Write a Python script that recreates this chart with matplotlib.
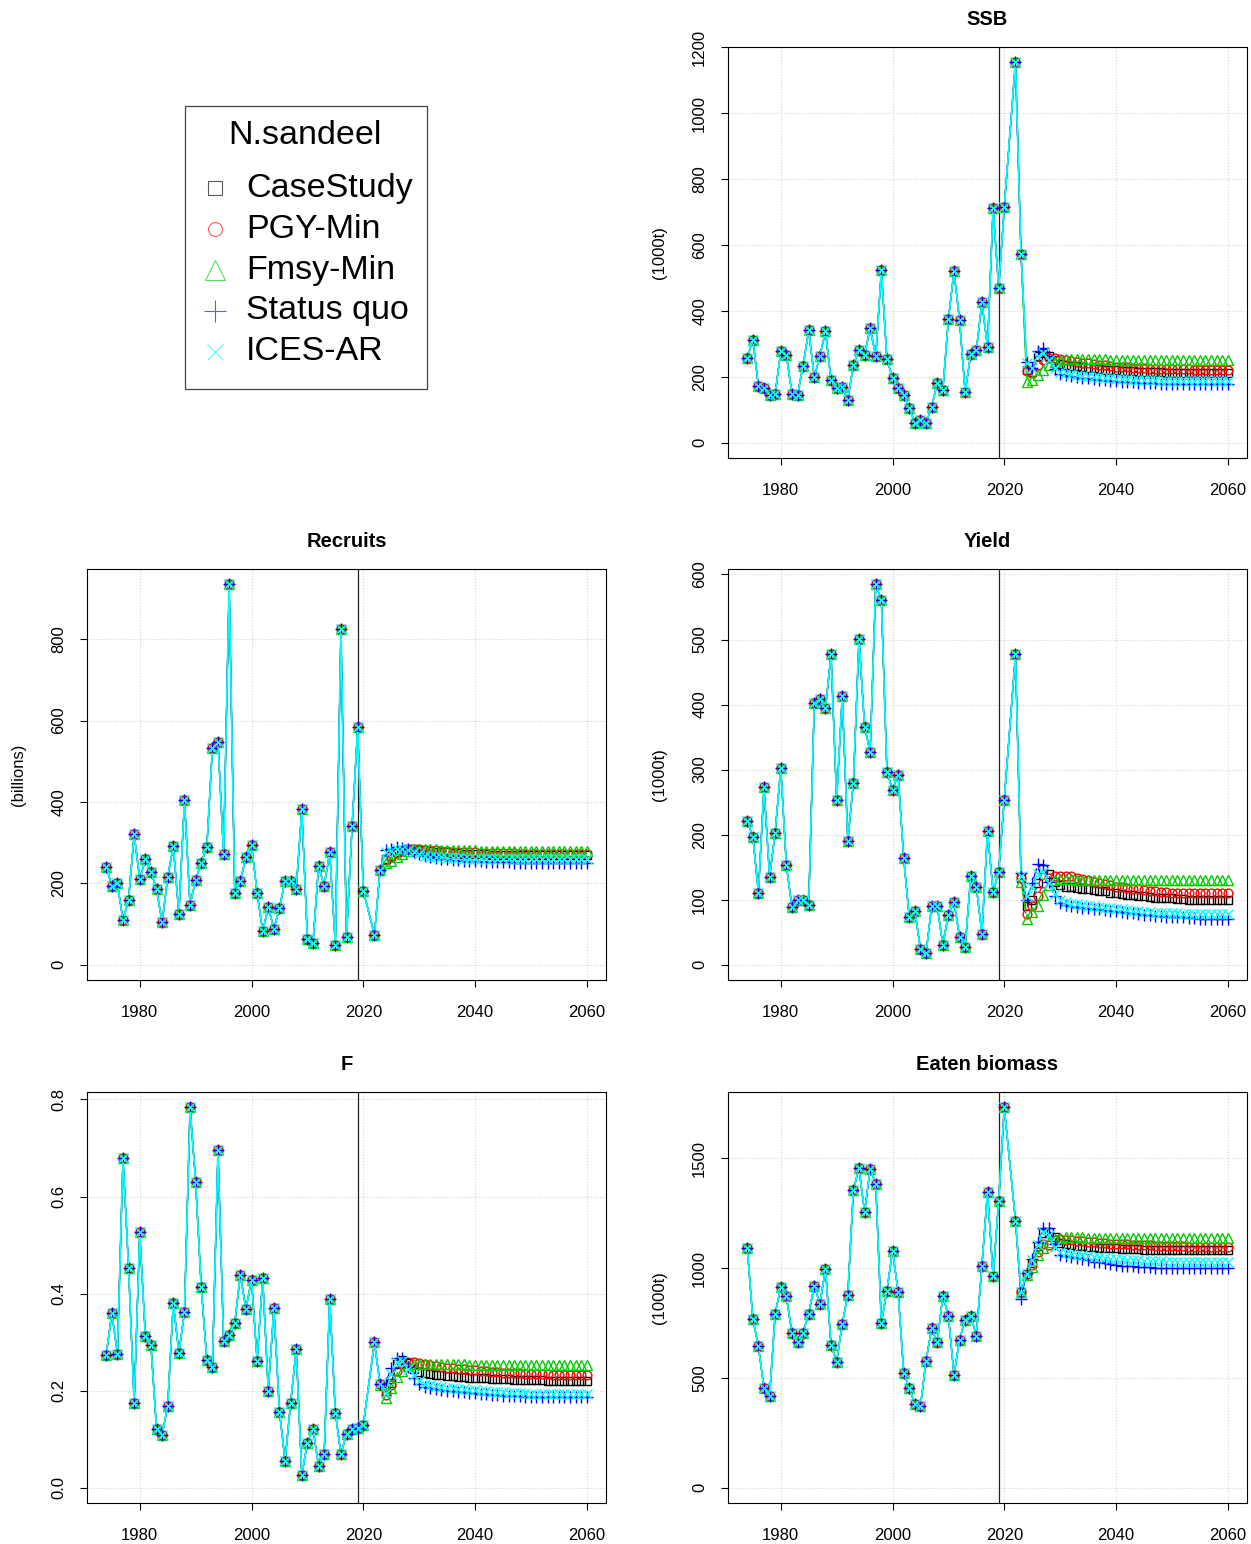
import numpy as np
import matplotlib
matplotlib.use('Agg')
import matplotlib.pyplot as plt
from matplotlib.lines import Line2D
from matplotlib.patches import Rectangle
from matplotlib.collections import LineCollection

plt.rcParams['font.family'] = ['Liberation Sans', 'DejaVu Sans']

# assessment years (2021 is not in the output) and projection years
hist_years = list(range(1974, 2021)) + [2022]
proj_years = list(range(2023, 2061))

scenarios = ['CaseStudy', 'PGY-Min', 'Fmsy-Min', 'Status quo', 'ICES-AR']
x_ticks = [1980, 2000, 2020, 2040, 2060]
last_assess_year = 2019

# ---- SSB (1000t)
ssb_hist = [257, 313, 173, 166, 146, 149, 277, 267, 149, 146,
            234, 341, 199, 262, 338, 189, 166, 169, 130, 237,
            280, 267, 348, 262, 523, 254, 196, 166, 146, 105,
            60, 70, 60, 108, 181, 159, 375, 520, 371, 153,
            270, 280, 426, 290, 712, 469, 715, 1154]
ssb_case = [571, 221, 215, 262, 272, 264, 250, 240, 236, 234,
            232, 230, 228, 226, 224, 222, 221, 220, 219, 218,
            217, 216, 215, 215, 214, 214, 213, 213, 213, 212,
            212, 212, 212, 212, 212, 212, 212, 212]
ssb_pgy = [571, 218, 212, 235, 252, 258, 257, 255, 252, 249,
           246, 243, 241, 239, 237, 235, 233, 231, 230, 229,
           228, 227, 226, 225, 225, 224, 224, 223, 223, 223,
           223, 222, 222, 222, 222, 222, 222, 222]
ssb_fmsy = [571, 183, 190, 205, 222, 236, 246, 251, 253, 254,
            254, 254, 253, 253, 253, 253, 252, 252, 252, 252,
            252, 252, 252, 252, 252, 252, 252, 252, 252, 252,
            252, 252, 252, 252, 252, 252, 252, 252]
ssb_sq = [571, 246, 228, 277, 287, 262, 225, 210, 206, 203,
          200, 197, 195, 193, 191, 189, 187, 186, 185, 184,
          183, 182, 181, 180, 180, 179, 179, 178, 178, 178,
          177, 177, 177, 177, 177, 177, 177, 177]
ssb_ices = [571, 241, 226, 262, 272, 250, 226, 214, 211, 208,
            206, 204, 202, 200, 198, 196, 195, 194, 193, 192,
            191, 190, 190, 189, 189, 188, 188, 188, 187, 187,
            187, 187, 187, 187, 187, 187, 187, 187]

# ---- Recruits (billions)
rec_hist = [241, 194, 200, 109, 160, 321, 210, 259, 229, 186,
            104, 215, 292, 125, 405, 147, 209, 250, 289, 532,
            548, 272, 935, 176, 207, 264, 294, 177, 82, 142,
            88, 139, 207, 207, 186, 382, 63, 53, 243, 194,
            276, 49, 825, 68, 341, 583, 182, 74]
rec_case = [233, 260, 268, 276, 282, 285, 284, 283, 281, 279,
            278, 277, 276, 275, 274, 273, 272, 272, 271, 271,
            270, 270, 270, 269, 269, 269, 269, 269, 269, 269,
            269, 269, 269, 269, 269, 269, 269, 269]
rec_pgy = [233, 258, 266, 274, 280, 284, 285, 284, 283, 282,
           281, 280, 279, 278, 277, 277, 276, 276, 275, 275,
           275, 274, 274, 274, 274, 273, 273, 273, 273, 273,
           273, 273, 273, 273, 273, 273, 273, 273]
rec_fmsy = [233, 250, 256, 264, 272, 280, 284, 285, 285, 284,
            284, 283, 283, 282, 282, 281, 281, 281, 280, 280,
            280, 280, 280, 279, 279, 279, 279, 279, 279, 279,
            279, 279, 279, 279, 279, 279, 279, 279]
rec_sq = [233, 281, 284, 289, 288, 284, 278, 272, 268, 265,
          263, 261, 259, 258, 257, 256, 255, 254, 254, 253,
          253, 252, 252, 252, 251, 251, 251, 251, 251, 251,
          251, 251, 251, 251, 251, 251, 251, 251]
rec_ices = [233, 277, 280, 284, 284, 282, 276, 271, 268, 266,
            265, 264, 263, 262, 262, 261, 261, 260, 260, 260,
            259, 259, 259, 259, 259, 259, 259, 259, 259, 259,
            259, 259, 259, 259, 259, 259, 259, 259]

# ---- Yield (1000t)
yld_hist = [221, 197, 111, 273, 135, 203, 303, 153, 89, 99,
            100, 92, 402, 408, 394, 477, 253, 413, 191, 280,
            501, 366, 327, 585, 561, 297, 269, 292, 164, 73,
            83, 24, 18, 90, 90, 31, 77, 97, 43, 27,
            137, 120, 48, 205, 112, 143, 254, 477]
yld_case = [133, 91, 100, 125, 147, 140, 128, 122, 120, 119,
            118, 117, 116, 115, 114, 113, 111, 110, 109, 108,
            107, 106, 105, 104, 103, 103, 102, 102, 101, 101,
            100, 100, 100, 100, 100, 100, 100, 100]
yld_pgy = [133, 78, 90, 106, 125, 133, 136, 137, 137, 136,
           134, 132, 130, 128, 126, 124, 122, 120, 119, 118,
           117, 116, 115, 114, 113, 112, 112, 111, 111, 110,
           110, 110, 110, 110, 110, 110, 110, 110]
yld_fmsy = [127, 71, 81, 91, 107, 122, 130, 132, 132, 132,
            131, 131, 131, 131, 130, 130, 130, 130, 130, 130,
            130, 130, 130, 130, 130, 130, 130, 130, 130, 130,
            130, 130, 130, 130, 130, 130, 130, 130]
yld_sq = [141, 100, 125, 155, 153, 128, 105, 95, 92, 90,
          89, 88, 87, 86, 85, 84, 83, 82, 81, 80,
          79, 78, 77, 76, 75, 75, 74, 74, 73, 73,
          72, 72, 71, 71, 71, 70, 70, 70]
yld_ices = [137, 105, 120, 140, 142, 125, 109, 99, 96, 94,
            93, 92, 91, 90, 89, 88, 87, 86, 85, 84,
            83, 82, 81, 81, 80, 80, 79, 79, 79, 78,
            78, 78, 78, 78, 78, 78, 78, 78]

# ---- F
f_hist = [0.274, 0.360, 0.276, 0.679, 0.452, 0.175, 0.526, 0.312, 0.294, 0.121,
          0.109, 0.169, 0.381, 0.278, 0.362, 0.784, 0.630, 0.413, 0.264, 0.248,
          0.695, 0.303, 0.315, 0.340, 0.439, 0.368, 0.429, 0.262, 0.432, 0.200,
          0.370, 0.157, 0.056, 0.175, 0.285, 0.026, 0.093, 0.122, 0.045, 0.069,
          0.389, 0.155, 0.069, 0.111, 0.121, 0.124, 0.129, 0.300]
f_case = [0.214, 0.200, 0.216, 0.255, 0.264, 0.257, 0.245, 0.238, 0.236, 0.234,
          0.233, 0.232, 0.231, 0.230, 0.229, 0.228, 0.227, 0.227, 0.226, 0.226,
          0.225, 0.225, 0.224, 0.224, 0.223, 0.223, 0.223, 0.222, 0.222, 0.222,
          0.221, 0.221, 0.221, 0.221, 0.221, 0.221, 0.221, 0.221]
f_pgy = [0.214, 0.192, 0.212, 0.240, 0.256, 0.260, 0.259, 0.257, 0.255, 0.253,
         0.251, 0.249, 0.247, 0.246, 0.245, 0.244, 0.243, 0.242, 0.241, 0.240,
         0.239, 0.238, 0.237, 0.237, 0.236, 0.236, 0.235, 0.235, 0.234, 0.234,
         0.234, 0.233, 0.233, 0.233, 0.233, 0.233, 0.233, 0.233]
f_fmsy = [0.212, 0.185, 0.205, 0.228, 0.240, 0.250, 0.254, 0.255, 0.255, 0.255,
          0.255, 0.254, 0.254, 0.254, 0.254, 0.254, 0.253, 0.253, 0.253, 0.253,
          0.253, 0.253, 0.253, 0.253, 0.253, 0.253, 0.253, 0.253, 0.253, 0.253,
          0.253, 0.253, 0.253, 0.253, 0.253, 0.253, 0.253, 0.253]
f_sq = [0.214, 0.215, 0.247, 0.267, 0.268, 0.248, 0.226, 0.214, 0.208, 0.205,
        0.203, 0.201, 0.200, 0.199, 0.198, 0.197, 0.196, 0.195, 0.194, 0.193,
        0.192, 0.191, 0.190, 0.190, 0.189, 0.189, 0.188, 0.188, 0.188, 0.187,
        0.187, 0.187, 0.186, 0.186, 0.186, 0.186, 0.186, 0.186]
f_ices = [0.214, 0.195, 0.235, 0.260, 0.262, 0.245, 0.233, 0.219, 0.214, 0.211,
          0.209, 0.208, 0.206, 0.205, 0.204, 0.203, 0.202, 0.201, 0.200, 0.199,
          0.198, 0.197, 0.197, 0.196, 0.196, 0.195, 0.195, 0.194, 0.194, 0.194,
          0.193, 0.193, 0.193, 0.193, 0.193, 0.193, 0.193, 0.193]

# ---- Eaten biomass (1000t)
eat_hist = [1093, 769, 644, 453, 416, 792, 916, 872, 705, 662,
            705, 792, 921, 837, 997, 650, 574, 746, 878, 1358,
            1455, 1255, 1453, 1384, 751, 898, 1080, 893, 523, 453,
            381, 371, 579, 726, 662, 875, 784, 514, 675, 766,
            784, 693, 1012, 1349, 963, 1308, 1733, 1217]
eat_case = [893, 975, 1025, 1100, 1160, 1166, 1140, 1113, 1108, 1105,
            1102, 1100, 1098, 1096, 1094, 1092, 1091, 1090, 1089, 1088,
            1087, 1086, 1085, 1085, 1084, 1084, 1083, 1083, 1083, 1082,
            1082, 1082, 1082, 1082, 1082, 1082, 1082, 1082]
eat_pgy = [893, 972, 1015, 1075, 1110, 1105, 1128, 1132, 1130, 1127,
           1124, 1122, 1120, 1118, 1116, 1114, 1112, 1110, 1109, 1108,
           1107, 1106, 1105, 1104, 1103, 1102, 1101, 1100, 1099, 1099,
           1098, 1098, 1097, 1097, 1097, 1097, 1097, 1097]
eat_fmsy = [893, 970, 1006, 1059, 1090, 1120, 1135, 1138, 1140, 1140,
            1140, 1140, 1139, 1139, 1139, 1139, 1138, 1138, 1138, 1138,
            1138, 1138, 1138, 1138, 1138, 1138, 1138, 1138, 1138, 1138,
            1138, 1138, 1138, 1138, 1138, 1138, 1138, 1138]
eat_sq = [860, 978, 1044, 1120, 1181, 1185, 1110, 1060, 1055, 1050,
          1045, 1040, 1035, 1030, 1026, 1022, 1018, 1015, 1012, 1010,
          1008, 1006, 1005, 1004, 1003, 1002, 1002, 1001, 1001, 1000,
          1000, 1000, 1000, 1000, 1000, 1000, 1000, 1000]
eat_ices = [893, 975, 1035, 1105, 1166, 1150, 1095, 1075, 1070, 1066,
            1062, 1058, 1055, 1052, 1049, 1046, 1044, 1042, 1040, 1038,
            1036, 1035, 1034, 1033, 1032, 1031, 1030, 1030, 1029, 1029,
            1029, 1028, 1028, 1028, 1028, 1028, 1028, 1028]

# R-like styles: pch 0..4 with palette black, red, green3, blue, cyan
colors = ['black', 'red', '#00CD00', 'blue', 'cyan']
markers = ['s', 'o', '^', '+', 'x']
msizes = [5.8, 6.3, 7.6, 8.8, 7.2]
line_widths = [0.9, 0.9, 0.9, 0.9, 1.3]


def gapped_line(ax, x, y, color, lw, zorder, gap=4.5):
    """ emulate R type='b': segments stop short of the points
        @ param: gap: pixels left open around each point
    """
    pts = ax.transData.transform(np.column_stack([x, y]))
    inv = ax.transData.inverted()
    segs = []
    for p0, p1 in zip(pts[:-1], pts[1:]):
        d = p1 - p0
        length = np.hypot(d[0], d[1])
        if length <= 2 * gap:
            continue
        u = d / length
        segs.append(inv.transform(np.array([p0 + u * gap, p1 - u * gap])))
    ax.add_collection(LineCollection(segs, colors=color, linewidths=lw,
                                     zorder=zorder))


def draw_panel(ax, title, ylab, hist, projs, yticks, fmt):
    years = hist_years + proj_years
    series = [hist + p for p in projs]
    xspan = years[-1] - years[0]
    ymax = max(max(s) for s in series)
    # R default: 4% padding, y range starting at 0
    ax.set_xlim(years[0] - 0.04 * xspan, years[-1] + 0.04 * xspan)
    ax.set_ylim(-0.04 * ymax, 1.04 * ymax)

    ax.set_xticks(x_ticks)
    ax.set_xticklabels([str(t) for t in x_ticks])
    ax.set_yticks(yticks)
    ax.set_yticklabels([fmt(t) for t in yticks], rotation=90, va='center')
    ax.tick_params(direction='out', length=5, width=0.8, labelsize=12)
    ax.tick_params(axis='x', pad=13)
    ax.tick_params(axis='y', pad=10)
    ax.grid(True, color='lightgray', linestyle=':', linewidth=0.8)
    ax.set_axisbelow(True)
    for sp in ax.spines.values():
        sp.set_linewidth(0.8)

    ax.set_title(title, fontsize=14.5, fontweight='bold', pad=16)
    ax.set_ylabel(ylab, fontsize=12)
    ax.yaxis.set_label_coords(-0.118, 0.5)

    for i, s in enumerate(series):
        gapped_line(ax, years, s, colors[i], line_widths[i], zorder=3 + 2 * i)
        ax.plot(years, s, linestyle='none', marker=markers[i],
                markersize=msizes[i], markerfacecolor='none',
                markeredgecolor=colors[i], markeredgewidth=1.0,
                zorder=4 + 2 * i)
    ax.axvline(last_assess_year, color='#222222', linewidth=0.9, zorder=2)


fig = plt.figure(figsize=(12.51, 15.44), dpi=100)
W, H = 1251, 1544
pw, ph = 519 / W, 411 / H


def panel_axes(left_px, top_px):
    return fig.add_axes([left_px / W, 1 - top_px / H - ph, pw, ph])


int_fmt = lambda v: f'{v:g}'

draw_panel(panel_axes(728, 47), 'SSB', '(1000t)', ssb_hist,
           [ssb_case, ssb_pgy, ssb_fmsy, ssb_sq, ssb_ices],
           [0, 200, 400, 600, 800, 1000, 1200], int_fmt)
draw_panel(panel_axes(87, 569), 'Recruits', '(billions)', rec_hist,
           [rec_case, rec_pgy, rec_fmsy, rec_sq, rec_ices],
           [0, 200, 400, 600, 800], int_fmt)
draw_panel(panel_axes(728, 569), 'Yield', '(1000t)', yld_hist,
           [yld_case, yld_pgy, yld_fmsy, yld_sq, yld_ices],
           [0, 100, 200, 300, 400, 500, 600], int_fmt)
draw_panel(panel_axes(87, 1092), 'F', '', f_hist,
           [f_case, f_pgy, f_fmsy, f_sq, f_ices],
           [0.0, 0.2, 0.4, 0.6, 0.8], lambda v: f'{v:.1f}')
draw_panel(panel_axes(728, 1092), 'Eaten biomass', '(1000t)', eat_hist,
           [eat_case, eat_pgy, eat_fmsy, eat_sq, eat_ices],
           [0, 500, 1000, 1500], int_fmt)

# legend box in the empty top-left cell (drawn by hand, like R legend())
fig.add_artist(Rectangle((185 / W, 1 - 389 / H), 242 / W, 283 / H,
                         transform=fig.transFigure, fill=False,
                         edgecolor='#444444', linewidth=0.9))
fig.text(305 / W, 1 - 135 / H, 'N.sandeel', ha='center', va='center',
         fontsize=24.5)
leg_sizes = [10, 10, 15, 16, 11]
for i, name in enumerate(scenarios):
    yy = 1 - (188 + 41 * i) / H
    fig.add_artist(Line2D([215 / W], [yy], transform=fig.transFigure,
                          linestyle='none', marker=markers[i],
                          markersize=leg_sizes[i], markerfacecolor='none',
                          markeredgecolor=colors[i], markeredgewidth=0.8,
                          alpha=0.65))
    fig.text(246 / W, yy, name, ha='left', va='center', fontsize=24.5)

fig.savefig('out.png', dpi=100)
